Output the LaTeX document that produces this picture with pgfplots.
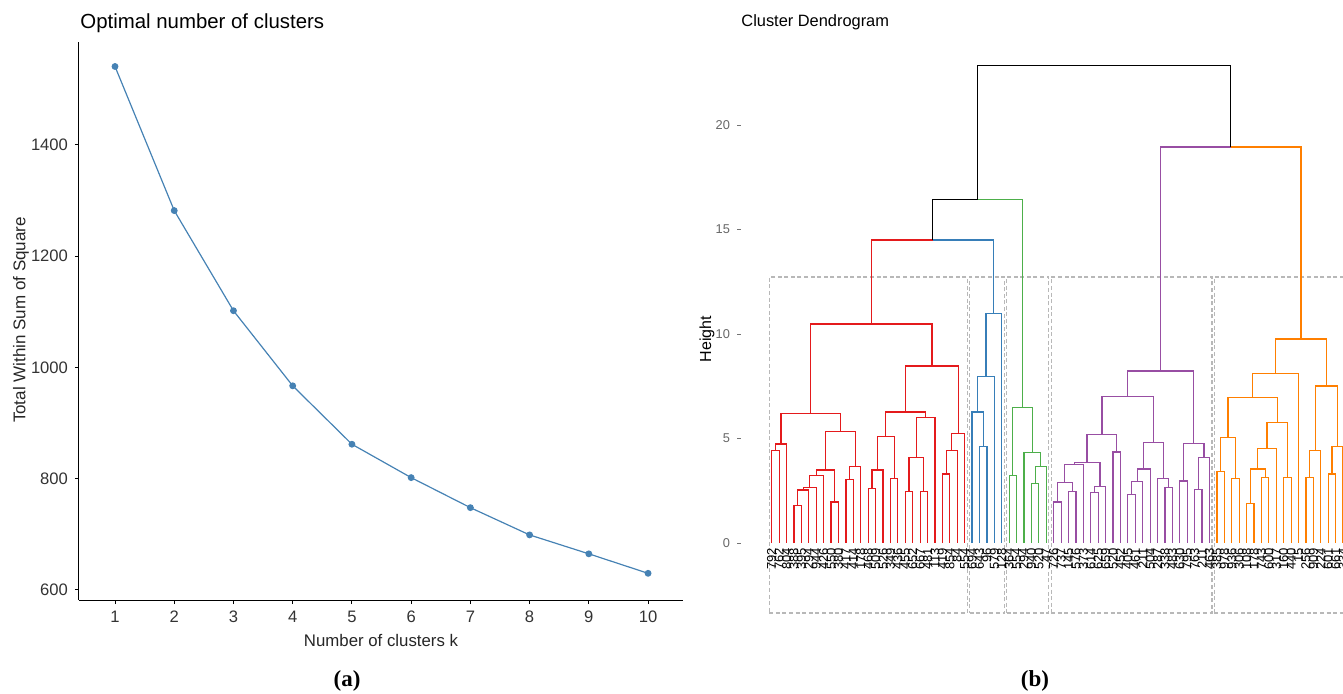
\documentclass[border=0pt]{standalone}
\usepackage{pgfplots}
\pgfplotsset{compat=1.18}
\usepackage{fontspec}
\setmainfont{Liberation Sans}
\newfontfamily\serifbf{Liberation Serif}
\definecolor{steel}{HTML}{4682B4}
\definecolor{cR}{HTML}{E41A1C}
\definecolor{cB}{HTML}{377EB8}
\definecolor{cG}{HTML}{4DAF4A}
\definecolor{cP}{HTML}{984EA3}
\definecolor{cO}{HTML}{FF7F00}
\pgfplotsset{
  rd/.style={cR, line width=0.6pt},
  bl/.style={cB, line width=0.6pt},
  gr/.style={cG, line width=0.6pt},
  pu/.style={cP, line width=0.6pt},
  or/.style={cO, line width=0.6pt},
  bk/.style={black, line width=0.6pt},
  rc/.style={black!28, line width=0.6pt, dash pattern=on 2pt off 1.3pt},
}
\begin{document}
\begin{tikzpicture}
\useasboundingbox (0,0) rectangle (671.5pt,346.5pt);
% ---------------- (a) elbow plot ----------------
\begin{axis}[
  at={(39.5pt,46.5pt)}, anchor=south west, scale only axis,
  width=302pt, height=279pt,
  xmin=0.392, xmax=10.59, ymin=582, ymax=1585,
  axis lines=left, axis line style={-, line width=0.5pt},
  xtick={1,2,3,4,5,6,7,8,9,10}, ytick={600,800,1000,1200,1400},
  tick align=outside, major tick length=2pt,
  tick style={black, line width=0.5pt},
  ticklabel style={font=\fontsize{8.3}{10}\selectfont, text=black!80},
  /pgf/number format/assume math mode=true,
  /pgf/number format/1000 sep={},
  clip=false,
]
\addplot[steel, line width=0.6pt, mark=*, mark size=1.4pt, mark options={fill=steel, draw=steel}]
coordinates {(1,1541) (2,1282) (3,1102) (4,967) (5,862) (6,802) (7,748) (8,699) (9,665) (10,630)};
\end{axis}
\node[anchor=base west, inner sep=0pt, font=\fontsize{10.2}{12}\selectfont] at (40pt,332.5pt) {Optimal number of clusters};
\node[rotate=90, font=\fontsize{8.5}{10}\selectfont, text=black!85] at (10.5pt,186.5pt) {Total Within Sum of Square};
\node[font=\fontsize{8.4}{10}\selectfont, text=black!85] at (190.5pt,26.5pt) {Number of clusters k};
\node[font=\serifbf\bfseries\fontsize{11.5}{13}\selectfont] at (173.5pt,6pt) {(a)};
% ---------------- (b) dendrogram ----------------
\begin{axis}[
  at={(370.5pt,37.38pt)}, anchor=south west, scale only axis,
  width=301.4pt, height=293.6pt,
  xmin=-3.14, xmax=78.1, ymin=-3.6, ymax=24.5,
  axis x line=none, axis y line*=left, y axis line style={draw=none},
  ytick={0,5,10,15,20}, xtick=\empty,
  tick align=outside, major tick length=2pt,
  ytick style={black!55, line width=0.5pt},
  yticklabel style={font=\fontsize{6.4}{8}\selectfont, text=black!60},
  /pgf/number format/assume math mode=true,
]
% cut rectangles
\addplot[rc] coordinates {(0.66,-3.35) (27.33,-3.35) (27.33,12.73) (0.66,12.73) (0.66,-3.35)};
\addplot[rc] coordinates {(27.66,-3.35) (32.33,-3.35) (32.33,12.73) (27.66,12.73) (27.66,-3.35)};
\addplot[rc] coordinates {(32.66,-3.35) (38.33,-3.35) (38.33,12.73) (32.66,12.73) (32.66,-3.35)};
\addplot[rc] coordinates {(38.66,-3.35) (60.33,-3.35) (60.33,12.73) (38.66,12.73) (38.66,-3.35)};
\addplot[rc] coordinates {(60.66,-3.35) (78.33,-3.35) (78.33,12.73) (60.66,12.73) (60.66,-3.35)};
% red cluster
\addplot[rd] coordinates {(1,0) (1,4.42) (2,4.42) (2,0)};
\addplot[rd] coordinates {(1.5,4.42) (1.5,4.74) (3,4.74) (3,0)};
\addplot[rd] coordinates {(4,0) (4,1.80) (5,1.80) (5,0)};
\addplot[rd] coordinates {(4.5,1.80) (4.5,2.54) (6,2.54) (6,0)};
\addplot[rd] coordinates {(5.25,2.54) (5.25,2.66) (7,2.66) (7,0)};
\addplot[rd] coordinates {(6.125,2.66) (6.125,3.22) (8,3.22) (8,0)};
\addplot[rd] coordinates {(9,0) (9,1.96) (10,1.96) (10,0)};
\addplot[rd] coordinates {(7.0625,3.22) (7.0625,3.49) (9.5,3.49) (9.5,1.96)};
\addplot[rd] coordinates {(11,0) (11,3.05) (12,3.05) (12,0)};
\addplot[rd] coordinates {(11.5,3.05) (11.5,3.65) (13,3.65) (13,0)};
\addplot[rd] coordinates {(8.2813,3.49) (8.2813,5.34) (12.25,5.34) (12.25,3.65)};
\addplot[rd] coordinates {(2.25,4.74) (2.25,6.2) (10.2656,6.2) (10.2656,5.34)};
\addplot[rd] coordinates {(14,0) (14,2.62) (15,2.62) (15,0)};
\addplot[rd] coordinates {(14.5,2.62) (14.5,3.49) (16,3.49) (16,0)};
\addplot[rd] coordinates {(17,0) (17,3.08) (18,3.08) (18,0)};
\addplot[rd] coordinates {(15.25,3.49) (15.25,5.1) (17.5,5.1) (17.5,3.08)};
\addplot[rd] coordinates {(19,0) (19,2.47) (20,2.47) (20,0)};
\addplot[rd] coordinates {(21,0) (21,2.47) (22,2.47) (22,0)};
\addplot[rd] coordinates {(19.5,2.47) (19.5,4.1) (21.5,4.1) (21.5,2.47)};
\addplot[rd] coordinates {(20.5,4.1) (20.5,6.01) (23,6.01) (23,0)};
\addplot[rd] coordinates {(16.375,5.1) (16.375,6.27) (21.75,6.27) (21.75,6.01)};
\addplot[rd] coordinates {(24,0) (24,3.30) (25,3.30) (25,0)};
\addplot[rd] coordinates {(24.5,3.30) (24.5,4.42) (26,4.42) (26,0)};
\addplot[rd] coordinates {(25.25,4.42) (25.25,5.25) (27,5.25) (27,0)};
\addplot[rd] coordinates {(19.0625,6.27) (19.0625,8.47) (26.125,8.47) (26.125,5.25)};
\addplot[rd] coordinates {(6.2578,6.2) (6.2578,10.48) (22.5938,10.48) (22.5938,8.47)};
% blue cluster
\addplot[bl] coordinates {(29,0) (29,4.61) (30,4.61) (30,0)};
\addplot[bl] coordinates {(28,0) (28,6.27) (29.5,6.27) (29.5,4.61)};
\addplot[bl] coordinates {(28.75,6.27) (28.75,7.96) (31,7.96) (31,0)};
\addplot[bl] coordinates {(29.875,7.96) (29.875,10.99) (32,10.99) (32,0)};
% green cluster
\addplot[gr] coordinates {(33,0) (33,3.22) (34,3.22) (34,0)};
\addplot[gr] coordinates {(36,0) (36,2.86) (37,2.86) (37,0)};
\addplot[gr] coordinates {(36.5,2.86) (36.5,3.65) (38,3.65) (38,0)};
\addplot[gr] coordinates {(35,0) (35,4.32) (37.25,4.32) (37.25,3.65)};
\addplot[gr] coordinates {(33.5,3.22) (33.5,6.48) (36.125,6.48) (36.125,4.32)};
% purple cluster
\addplot[pu] coordinates {(39,0) (39,1.96) (40,1.96) (40,0)};
\addplot[pu] coordinates {(41,0) (41,2.47) (42,2.47) (42,0)};
\addplot[pu] coordinates {(39.5,1.96) (39.5,2.89) (41.5,2.89) (41.5,2.47)};
\addplot[pu] coordinates {(40.5,2.89) (40.5,3.75) (43,3.75) (43,0)};
\addplot[pu] coordinates {(44,0) (44,2.43) (45,2.43) (45,0)};
\addplot[pu] coordinates {(44.5,2.43) (44.5,2.72) (46,2.72) (46,0)};
\addplot[pu] coordinates {(41.75,3.75) (41.75,3.85) (45.25,3.85) (45.25,2.72)};
\addplot[pu] coordinates {(47,0) (47,4.36) (48,4.36) (48,0)};
\addplot[pu] coordinates {(43.5,3.85) (43.5,5.19) (47.5,5.19) (47.5,4.36)};
\addplot[pu] coordinates {(49,0) (49,2.32) (50,2.32) (50,0)};
\addplot[pu] coordinates {(49.5,2.32) (49.5,2.93) (51,2.93) (51,0)};
\addplot[pu] coordinates {(50.25,2.93) (50.25,3.54) (52,3.54) (52,0)};
\addplot[pu] coordinates {(54,0) (54,2.65) (55,2.65) (55,0)};
\addplot[pu] coordinates {(53,0) (53,3.08) (54.5,3.08) (54.5,2.65)};
\addplot[pu] coordinates {(51.125,3.54) (51.125,4.82) (53.75,4.82) (53.75,3.08)};
\addplot[pu] coordinates {(45.5,5.19) (45.5,7.03) (52.4375,7.03) (52.4375,4.82)};
\addplot[pu] coordinates {(56,0) (56,2.97) (57,2.97) (57,0)};
\addplot[pu] coordinates {(58,0) (58,2.57) (59,2.57) (59,0)};
\addplot[pu] coordinates {(58.5,2.57) (58.5,4.1) (60,4.1) (60,0)};
\addplot[pu] coordinates {(56.5,2.97) (56.5,4.78) (59.25,4.78) (59.25,4.1)};
\addplot[pu] coordinates {(48.9688,7.03) (48.9688,8.23) (57.875,8.23) (57.875,4.78)};
% orange cluster
\addplot[or] coordinates {(61,0) (61,3.44) (62,3.44) (62,0)};
\addplot[or] coordinates {(63,0) (63,3.08) (64,3.08) (64,0)};
\addplot[or] coordinates {(61.5,3.44) (61.5,5.06) (63.5,5.06) (63.5,3.08)};
\addplot[or] coordinates {(65,0) (65,1.90) (66,1.90) (66,0)};
\addplot[or] coordinates {(67,0) (67,3.13) (68,3.13) (68,0)};
\addplot[or] coordinates {(65.5,1.90) (65.5,3.54) (67.5,3.54) (67.5,3.13)};
\addplot[or] coordinates {(66.5,3.54) (66.5,4.51) (69,4.51) (69,0)};
\addplot[or] coordinates {(70,0) (70,3.13) (71,3.13) (71,0)};
\addplot[or] coordinates {(67.75,4.51) (67.75,5.76) (70.5,5.76) (70.5,3.13)};
\addplot[or] coordinates {(62.5,5.06) (62.5,6.97) (69.125,6.97) (69.125,5.76)};
\addplot[or] coordinates {(65.8125,6.97) (65.8125,8.13) (72,8.13) (72,0)};
\addplot[or] coordinates {(73,0) (73,3.13) (74,3.13) (74,0)};
\addplot[or] coordinates {(73.5,3.13) (73.5,4.42) (75,4.42) (75,0)};
\addplot[or] coordinates {(76,0) (76,3.30) (77,3.30) (77,0)};
\addplot[or] coordinates {(76.5,3.30) (76.5,4.61) (78,4.61) (78,0)};
\addplot[or] coordinates {(74.25,4.42) (74.25,7.51) (77.25,7.51) (77.25,4.61)};
\addplot[or] coordinates {(68.9063,8.13) (68.9063,9.76) (75.75,9.76) (75.75,7.51)};
% upper merges
\addplot[rd] coordinates {(22.6816,14.5) (14.4258,14.5) (14.4258,10.48)};
\addplot[bl] coordinates {(22.6816,14.5) (30.9375,14.5) (30.9375,10.99)};
\addplot[bk] coordinates {(28.747,16.45) (22.6816,16.45) (22.6816,14.5)};
\addplot[gr] coordinates {(28.747,16.45) (34.8125,16.45) (34.8125,6.48)};
\addplot[pu] coordinates {(62.875,18.95) (53.4219,18.95) (53.4219,8.23)};
\addplot[or] coordinates {(62.875,18.95) (72.3281,18.95) (72.3281,9.76)};
\addplot[bk] coordinates {(28.747,16.45) (28.747,22.85) (62.875,22.85) (62.875,18.95)};
% leaf labels
\addplot[draw=none, mark=none, nodes near coords, point meta=explicit symbolic,
  every node near coord/.append style={rotate=90, anchor=east, inner sep=0pt,
  font=\fontsize{6.5}{6.5}\selectfont, text=black}]
table[meta=lab] {
x y lab
1 -0.22 792
2 -0.22 762
3 -0.22 804
4 -0.22 388
5 -0.22 395
6 -0.22 294
7 -0.22 944
8 -0.22 426
9 -0.22 550
10 -0.22 380
11 -0.22 417
12 -0.22 414
13 -0.22 178
14 -0.22 468
15 -0.22 509
16 -0.22 526
17 -0.22 349
18 -0.22 436
19 -0.22 455
20 -0.22 652
21 -0.22 667
22 -0.22 481
23 -0.22 113
24 -0.22 419
25 -0.22 854
26 -0.22 84
27 -0.22 554
28 -0.22 694
29 -0.22 643
30 -0.22 96
31 -0.22 579
32 -0.22 128
33 -0.22 364
34 -0.22 554
35 -0.22 294
36 -0.22 940
37 -0.22 520
38 -0.22 47
39 -0.22 726
40 -0.22 737
41 -0.22 145
42 -0.22 576
43 -0.22 373
44 -0.22 614
45 -0.22 625
46 -0.22 659
47 -0.22 520
48 -0.22 452
49 -0.22 405
50 -0.22 461
51 -0.22 211
52 -0.22 504
53 -0.22 287
54 -0.22 338
55 -0.22 483
56 -0.22 630
57 -0.22 795
58 -0.22 763
59 -0.22 211
60 -0.22 463
61 -0.22 385
62 -0.22 978
63 -0.22 936
64 -0.22 306
65 -0.22 108
66 -0.22 178
67 -0.22 743
68 -0.22 600
69 -0.22 317
70 -0.22 160
71 -0.22 440
72 -0.22 15
73 -0.22 256
74 -0.22 909
75 -0.22 224
76 -0.22 601
77 -0.22 661
78 -0.22 334
};
\end{axis}
\node[anchor=base west, inner sep=0pt, font=\fontsize{8.2}{10}\selectfont] at (370.5pt,333.5pt) {Cluster Dendrogram};
\node[rotate=90, font=\fontsize{8}{10}\selectfont] at (353.5pt,177pt) {Height};
\node[font=\serifbf\bfseries\fontsize{11.5}{13}\selectfont] at (517.5pt,6pt) {(b)};
\end{tikzpicture}
\end{document}
